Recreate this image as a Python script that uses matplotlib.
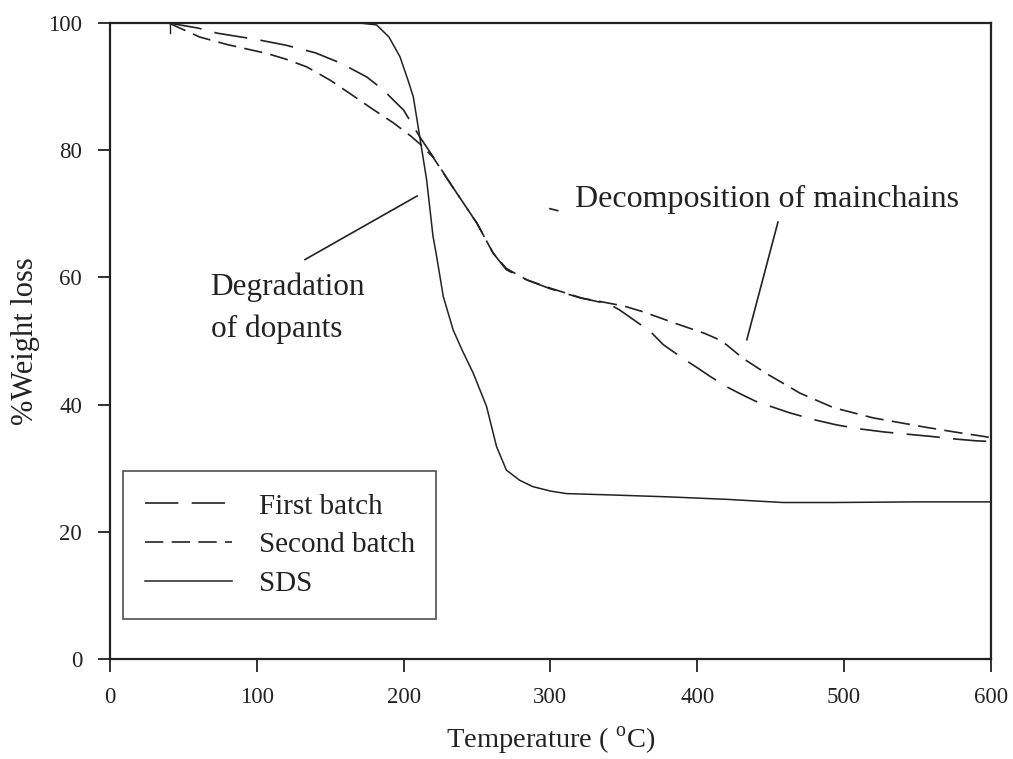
import matplotlib
matplotlib.use("Agg")
import matplotlib.pyplot as plt

plt.rcParams['font.family'] = ['Liberation Serif', 'DejaVu Serif']
plt.rcParams['mathtext.fontset'] = 'custom'
plt.rcParams['mathtext.rm'] = 'Liberation Serif'

# ---- data ----
first_T = [40, 60, 73, 100, 120, 140, 157, 175, 186, 200, 211, 220, 232, 250, 261, 270, 284,
           300, 320, 340, 347, 360, 368, 377, 390, 400, 409, 420, 431, 440, 463, 480, 495,
           510, 527, 545, 559, 575, 590, 600]
first_W = [100, 99.2, 98.4, 97.4, 96.5, 95.3, 93.7, 91.5, 89.5, 86.3, 82.1, 79.0, 74.7, 68.5,
           63.8, 61.2, 59.6, 58.2, 56.8, 55.8, 54.9, 52.8, 51.5, 49.4, 47.3, 45.8, 44.4, 42.8,
           41.5, 40.5, 38.7, 37.6, 36.8, 36.2, 35.7, 35.3, 35.0, 34.6, 34.3, 34.2]

second_T = [40, 61, 80, 107, 120, 134, 150, 163.5, 178, 193, 205, 212, 220, 232, 250, 261, 270,
            284, 300, 311, 322, 334, 350, 363, 386, 405, 413, 420, 431, 447, 470, 493, 520,
            554, 575, 595, 600]
second_W = [100, 97.8, 96.6, 95.2, 94.3, 93.1, 91.0, 88.9, 86.6, 84.3, 82.2, 80.8, 78.9, 74.7,
            68.5, 63.8, 61.4, 59.6, 58.3, 57.5, 56.7, 56.2, 55.5, 54.6, 52.7, 51.2, 50.4, 49.4,
            47.3, 44.9, 41.8, 39.5, 37.9, 36.5, 35.7, 35.0, 34.8]

sds_T = [40, 170, 181.6, 190, 197.5, 203, 206.6, 211, 215.7, 218, 220, 222.5, 227, 233.8, 240,
         247.5, 256.5, 263.3, 270, 279, 288, 300, 311, 340, 379, 420, 458.5, 493, 550, 600]
sds_W = [100, 100, 99.7, 97.8, 94.7, 91.0, 88.4, 82.1, 75.3, 70.6, 66.5, 63.3, 57.0, 51.7, 48.5,
         44.9, 39.7, 33.4, 29.7, 28.1, 27.1, 26.4, 26.0, 25.8, 25.5, 25.1, 24.6, 24.6, 24.7, 24.7]

series_labels = ["First batch", "Second batch", "SDS"]
x_ticks = [0, 100, 200, 300, 400, 500, 600]
y_ticks = [0, 20, 40, 60, 80, 100]

# ---- figure ----
fig = plt.figure(figsize=(10.13, 7.59), dpi=100)
ax = fig.add_axes([0.1086, 0.1318, 0.8695, 0.8379])

ax.plot(first_T, first_W, color='#222222', lw=1.2, dashes=(20, 8), label=series_labels[0])
ax.plot(second_T, second_W, color='#222222', lw=1.2, dashes=(11, 5), label=series_labels[1])
ax.plot(sds_T, sds_W, color='#222222', lw=1.1, label=series_labels[2])

ax.set_xlim(0, 600)
ax.set_ylim(0, 100)
ax.set_xticks(x_ticks)
ax.set_yticks(y_ticks)
ax.tick_params(direction='out', length=9, width=1.3, labelsize=16.5, pad=11, colors='#222222')
for s in ax.spines.values():
    s.set_linewidth(1.6)
    s.set_color('#222222')

ax.set_xlabel(r'Temperature ( $^{\mathrm{o}}$C)', fontsize=20.5, color='#222222', labelpad=12)
ax.set_ylabel('%Weight loss', fontsize=22, color='#222222', labelpad=6)

leg = ax.legend(loc='lower left', bbox_to_anchor=(0.0148, 0.063, 0.355, 0.239), mode='expand',
                fontsize=21, frameon=True, fancybox=False, edgecolor='#222222',
                handlelength=3.0, handletextpad=0.9, labelspacing=0.42, borderpad=0.75,
                borderaxespad=0)
leg.get_frame().set_linewidth(1.2)
for t in leg.get_texts():
    t.set_color('#222222')

# annotations
ax.text(316.7, 72.2, 'Decomposition of mainchains', fontsize=23, va='center', ha='left',
        color='#222222')
ax.plot([455, 433.8], [68.7, 50.2], color='#222222', lw=1.2)
ax.plot([299.7, 305], [70.8, 70.5], color='#222222', lw=1.2)

ax.text(68.5, 57.2, 'Degradation', fontsize=22.5, va='baseline', ha='left', color='#222222')
ax.text(68.5, 50.7, 'of dopants', fontsize=22.5, va='baseline', ha='left', color='#222222')
ax.plot([132.8, 209.2], [62.8, 72.8], color='#222222', lw=1.2)

ax.plot([41, 41], [100, 98.4], color='#222222', lw=1.0, clip_on=False)

fig.savefig('out.png', dpi=100)
